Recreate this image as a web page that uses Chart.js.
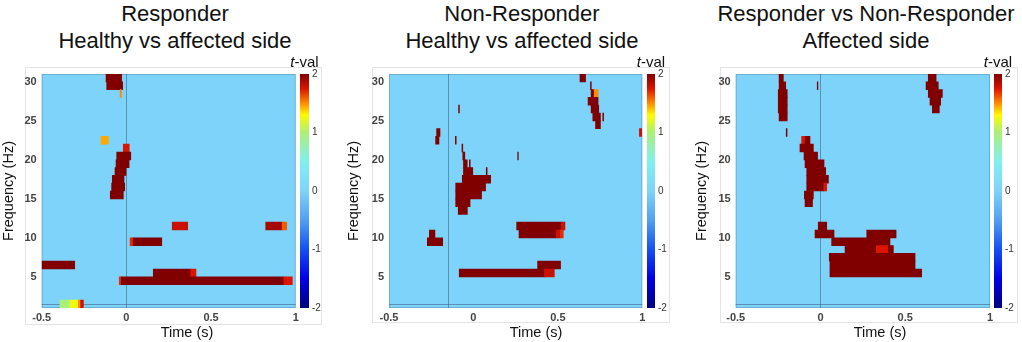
<!DOCTYPE html>
<html>
<head>
<meta charset="utf-8">
<script src="https://cdn.jsdelivr.net/npm/chart.js@4"></script>
<style>
  body { margin: 0; background: #fff; }
  #wrap { position: relative; width: 1022px; height: 342px; overflow: hidden; font-family: "Liberation Sans", Arial, sans-serif; color: #111; }
  canvas, .txt, .frame { position: absolute; }
  .frame { border: 1px solid #e4e4e4; box-sizing: border-box; }
  .title { font-size: 22px; line-height: 27px; text-align: center; width: 360px; }
  .xtitle { font-size: 14.5px; line-height: 18px; text-align: center; width: 120px; }
  .tval { font-size: 15px; line-height: 17px; text-align: center; width: 50px; }
</style>
</head>
<body>
<div id="wrap"></div>
<script>
// axis ticks
const TIME_TICKS = [-0.5, 0, 0.5, 1];
const FREQ_TICKS = [5, 10, 15, 20, 25, 30];
const TVAL_TICKS = [-2, -1, 0, 1, 2];

const panelTitles = [
  ['Responder', 'Healthy vs affected side'],
  ['Non-Responder', 'Healthy vs affected side'],
  ['Responder vs Non-Responder', 'Affected side']
];
const timeMarkers = [0, -0.15, 0];
const lowFreqLine = 1.45;

// significant cells: [freq bin start (Hz), time start (s), time end (s), t-value]
const responderCells = [
  [30, -0.12, -0.028, 2], [29, -0.116, -0.022, 2], [28, -0.037, -0.029, 1.5],
  [22, -0.149, -0.107, 1.45],
  [21, -0.018, 0.017, 1.75], [20, -0.057, 0.026, 2], [19, -0.061, 0.016, 2],
  [18, -0.067, -0.002, 2], [17, -0.083, -0.014, 2], [16, -0.087, -0.010, 2],
  [15, -0.095, -0.018, 2],
  [11, 0.271, 0.362, 1.8], [11, 0.823, 0.92, 1.9], [11, 0.92, 0.947, 1.6],
  [9, 0.022, 0.04, 1.7], [9, 0.04, 0.209, 2],
  [6, -0.5, -0.305, 2],
  [5, 0.159, 0.38, 2], [5, 0.38, 0.411, 1.75],
  [4, -0.042, -0.03, 1.7], [4, -0.03, 0.93, 2], [4, 0.93, 0.98, 1.75],
  [1, -0.392, -0.333, 1.0], [1, -0.333, -0.284, 1.25], [1, -0.284, -0.27, 1.5], [1, -0.27, -0.254, 1.8]
];
const nonResponderCells = [
  [30, 0.631, 0.664, 2], [29, 0.693, 0.698, 2],
  [28, 0.697, 0.715, 2], [28, 0.715, 0.738, 1.5],
  [27, 0.679, 0.738, 2], [26, 0.697, 0.742, 2],
  [25, 0.707, 0.752, 2], [25, 0.766, 0.771, 2], [24, 0.723, 0.752, 2],
  [26, -0.088, -0.083, 2], [23, 0.983, 0.996, 1.8],
  [23, -0.218, -0.198, 2], [22, -0.224, -0.204, 2],
  [22, -0.107, -0.102, 2], [21, -0.068, -0.063, 2], [20, 0.262, 0.266, 2],
  [20, -0.063, -0.051, 2], [19, -0.059, -0.037, 2], [19, -0.024, -0.019, 2],
  [18, -0.059, -0.004, 2], [18, 0.076, 0.081, 2],
  [17, -0.066, 0.102, 2], [16, -0.105, 0.072, 2], [15, -0.105, 0.048, 2],
  [14, -0.105, -0.020, 2], [13, -0.090, -0.036, 2],
  [10, -0.261, -0.228, 2], [9, -0.273, -0.182, 2],
  [11, 0.256, 0.52, 2], [11, 0.52, 0.542, 1.8],
  [10, 0.270, 0.49, 2], [10, 0.49, 0.515, 1.8], [10, 0.515, 0.532, 1.7],
  [6, 0.380, 0.516, 2],
  [5, -0.084, 0.42, 2], [5, 0.42, 0.479, 1.8]
];
const comparisonCells = [
  [30, -0.244, -0.219, 2], [29, -0.244, -0.205, 2], [28, -0.249, -0.196, 2],
  [27, -0.249, -0.196, 2], [26, -0.249, -0.196, 2], [25, -0.244, -0.196, 2],
  [23, -0.202, -0.197, 2], [29, -0.019, -0.015, 2],
  [22, -0.111, -0.09, 1.75], [22, -0.09, -0.062, 2],
  [21, -0.121, -0.042, 2], [20, -0.097, -0.017, 2], [19, -0.091, 0.021, 2],
  [18, -0.081, 0.031, 2], [17, -0.081, 0.047, 2],
  [16, -0.081, 0.02, 2], [16, 0.02, 0.037, 1.75],
  [15, -0.095, -0.042, 2], [14, -0.091, -0.047, 2],
  [30, 0.636, 0.682, 2], [29, 0.623, 0.695, 2], [28, 0.636, 0.719, 2],
  [27, 0.646, 0.709, 2], [26, 0.660, 0.701, 2],
  [11, -0.013, 0.037, 2],
  [10, -0.032, 0.080, 2], [10, 0.273, 0.446, 2],
  [9, 0.066, 0.410, 2],
  [8, 0.145, 0.33, 2], [8, 0.33, 0.40, 1.75], [8, 0.40, 0.43, 2],
  [7, 0.052, 0.558, 2], [6, 0.056, 0.558, 2], [5, 0.056, 0.597, 2]
];
const panelCells = [responderCells, nonResponderCells, comparisonCells];

// colour map for t-values (-2..2)
const cmapStops = [
  [-2, [0, 0, 128]], [-1.5, [0, 0, 230]], [-1, [20, 80, 240]], [-0.5, [80, 160, 240]],
  [0, [126, 211, 250]], [0.5, [128, 240, 240]], [1, [170, 240, 120]], [1.3, [255, 250, 0]],
  [1.5, [255, 140, 0]], [1.75, [220, 20, 0]], [2, [128, 0, 0]]
];
function tvalColor(v) {
  v = Math.max(-2, Math.min(2, v));
  for (let i = 1; i < cmapStops.length; i++) {
    const [v1, c1] = cmapStops[i];
    const [v0, c0] = cmapStops[i - 1];
    if (v <= v1) {
      const f = (v - v0) / (v1 - v0);
      const c = c0.map((a, k) => Math.round(a + (c1[k] - a) * f));
      return `rgb(${c[0]},${c[1]},${c[2]})`;
    }
  }
  return 'rgb(128,0,0)';
}

// page layout (px)
const layout = [
  { ox: 0, plotLeft: 41.7, plotRight: 295.7, yTitlePad: 0.5, titleCx: 175, xTitleCx: 187, cbLeft: 300, cbRight: 309, frame: [25, 67, 322, 325] },
  { ox: 340, plotLeft: 49, plotRight: 302.3, yTitlePad: 5.5, titleCx: 522, xTitleCx: 536, cbLeft: 647, cbRight: 655, frame: [372, 67, 670, 323] },
  { ox: 680, plotLeft: 55.7, plotRight: 310, yTitlePad: 13.5, titleCx: 866, xTitleCx: 880, cbLeft: 994, cbRight: 1002, frame: [720, 67, 1018, 323] }
];

Chart.defaults.font.family = '"Liberation Sans", Arial, sans-serif';

const heatBackground = {
  id: 'heatBackground',
  beforeDatasetsDraw(chart, args, opts) {
    const { ctx, chartArea: a, scales: { x, y } } = chart;
    ctx.save();
    ctx.fillStyle = tvalColor(0);
    ctx.fillRect(a.left, a.top, a.width, a.height);
    ctx.strokeStyle = 'rgba(60,90,120,0.55)';
    ctx.lineWidth = 1;
    const px = Math.round(x.getPixelForValue(opts.marker)) + 0.5;
    const py = Math.round(y.getPixelForValue(lowFreqLine)) + 0.5;
    ctx.beginPath();
    ctx.moveTo(px, a.top); ctx.lineTo(px, a.bottom);
    ctx.moveTo(a.left, py); ctx.lineTo(a.right, py);
    ctx.stroke();
    ctx.strokeStyle = 'rgba(60,90,120,0.3)';
    ctx.strokeRect(a.left + 0.5, a.top + 0.5, a.width - 1, a.height - 1);
    ctx.restore();
  }
};

const wrap = document.getElementById('wrap');
function addEl(tag, cls, style, html) {
  const el = document.createElement(tag);
  if (cls) el.className = cls;
  Object.assign(el.style, style);
  if (html !== undefined) el.innerHTML = html;
  wrap.appendChild(el);
  return el;
}

layout.forEach((L, i) => {
  const [fl, ft, fr, fb] = L.frame;
  addEl('div', 'frame', { left: fl + 'px', top: ft + 'px', width: (fr - fl) + 'px', height: (fb - ft) + 'px' });
  addEl('div', 'txt title', { left: (L.titleCx - 180) + 'px', top: '0px' }, panelTitles[i].join('<br>'));

  const cv = addEl('canvas', '', { left: L.ox + 'px', top: '0px' });
  cv.width = 340; cv.height = 342;
  new Chart(cv, {
    type: 'bar',
    data: {
      datasets: [{
        data: panelCells[i].map(c => ({ y: c[0] + 0.5, x: [c[1], c[2]], v: c[3] })),
        backgroundColor: ctx => tvalColor(ctx.raw ? ctx.raw.v : 0),
        borderWidth: 0,
        barPercentage: 1,
        categoryPercentage: 1,
        grouped: false
      }]
    },
    options: {
      indexAxis: 'y',
      responsive: false,
      animation: false,
      events: [],
      layout: { padding: { top: 74, right: 340 - L.plotRight, left: 0, bottom: 0 } },
      plugins: { legend: { display: false }, tooltip: { enabled: false }, heatBackground: { marker: timeMarkers[i] } },
      scales: {
        x: {
          type: 'linear', min: -0.5, max: 1,
          afterBuildTicks: s => { s.ticks = TIME_TICKS.map(v => ({ value: v })); },
          afterFit: s => { s.height = 34; },
          grid: { display: false, drawTicks: false }, border: { display: false },
          ticks: { padding: 3, autoSkip: false, maxRotation: 0, color: '#444', font: { size: 11, weight: 'bold' }, callback: v => String(v) }
        },
        y: {
          type: 'linear', min: 1, max: 31, offset: false,
          afterBuildTicks: s => { s.ticks = FREQ_TICKS.map(v => ({ value: v })); },
          afterFit: s => { s.width = L.plotLeft; },
          grid: { display: false, drawTicks: false }, border: { display: false },
          ticks: { padding: 5, color: '#444', font: { size: 11, weight: 'bold' }, callback: v => String(v) },
          title: { display: true, text: 'Frequency (Hz)', color: '#111', font: { size: 14.5 }, padding: { top: L.yTitlePad, bottom: 0 } }
        }
      }
    },
    plugins: [heatBackground]
  });

  addEl('div', 'txt xtitle', { left: (L.xTitleCx - 60) + 'px', top: '322.7px' }, 'Time (s)');

  // colour bar
  const cbW = L.cbRight - L.cbLeft;
  addEl('div', 'txt tval', { left: (L.cbLeft + cbW / 2 - 25) + 'px', top: '53px' }, '<i>t</i>-val');
  const cb = addEl('canvas', '', { left: L.cbLeft + 'px', top: '64px' });
  cb.width = cbW + 20; cb.height = 254;
  new Chart(cb, {
    type: 'bar',
    data: {
      labels: [''],
      datasets: [{
        data: [[TVAL_TICKS[0], TVAL_TICKS[TVAL_TICKS.length - 1]]],
        backgroundColor: ctx => {
          const a = ctx.chart.chartArea;
          if (!a) return tvalColor(0);
          const g = ctx.chart.ctx.createLinearGradient(0, a.bottom, 0, a.top);
          cmapStops.forEach(([v, c]) => g.addColorStop((v + 2) / 4, `rgb(${c[0]},${c[1]},${c[2]})`));
          return g;
        },
        borderWidth: 0, barPercentage: 1, categoryPercentage: 1
      }]
    },
    options: {
      responsive: false, animation: false, events: [],
      layout: { padding: { top: 10, bottom: 10, left: 0, right: 0 } },
      plugins: { legend: { display: false }, tooltip: { enabled: false } },
      scales: {
        x: { display: false },
        y: {
          position: 'right', min: -2, max: 2,
          afterBuildTicks: s => { s.ticks = TVAL_TICKS.map(v => ({ value: v })); },
          afterFit: s => { s.width = 20; },
          grid: { display: false, drawTicks: false }, border: { display: false },
          ticks: { padding: 3, color: '#333', font: { size: 10 }, callback: v => String(v) }
        }
      }
    }
  });
});
</script>
</body>
</html>
